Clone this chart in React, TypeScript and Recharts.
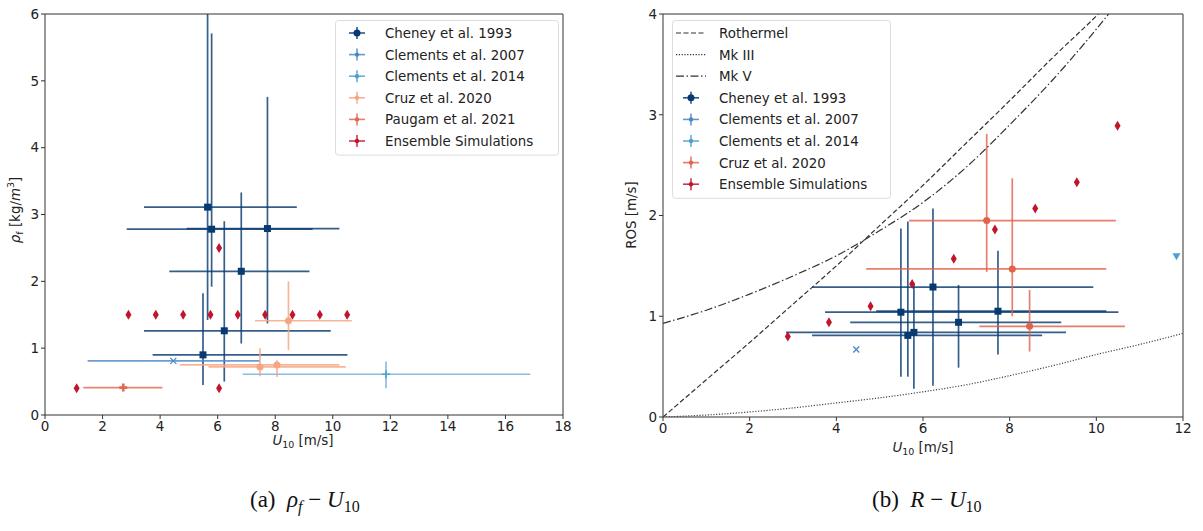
import React from 'react';
import { ScatterChart, Scatter, XAxis, YAxis, ErrorBar, ReferenceArea } from 'recharts';

// Cheney et al. 1993
const cheneyU = [5.65, 5.79, 7.73, 6.82, 6.23, 5.49];
const cheneyULow = [3.44, 2.84, 4.92, 4.32, 3.44, 3.74];
const cheneyUHigh = [8.75, 9.3, 10.23, 9.19, 9.93, 10.51];
const cheneyRho = [3.11, 2.78, 2.79, 2.15, 1.26, 0.9];
const cheneyRhoLow = [1.42, 1.92, 1.37, 1.07, 0.5, 0.45];
const cheneyRhoHigh = [6.0, 5.71, 4.76, 3.33, 2.9, 1.82];
const cheneyRos = [0.81, 0.84, 1.05, 0.94, 1.29, 1.04];
const cheneyRosLow = [0.4, 0.28, 0.62, 0.49, 0.31, 0.4];
const cheneyRosHigh = [1.94, 1.32, 1.65, 1.31, 2.07, 1.87];

// Clements et al. 2007 / 2014
const clem07U = [4.46];
const clem07ULow = [1.48];
const clem07UHigh = [7.47];
const clem07Rho = [0.81];
const clem07Ros = [0.67];
const clem14U = [11.85];
const clem14ULow = [6.87];
const clem14UHigh = [16.86];
const clem14Rho = [0.61];
const clem14RhoLow = [0.4];
const clem14RhoHigh = [0.8];
const clem14Ros = [1.59];

// Cruz et al. 2020
const cruzU = [8.46, 7.47, 8.06];
const cruzULow = [7.3, 5.68, 4.69];
const cruzUHigh = [10.66, 10.45, 10.23];
const cruzRho = [1.41, 0.72, 0.75];
const cruzRhoLow = [0.97, 0.58, 0.57];
const cruzRhoHigh = [2.0, 1.0, 0.82];
const cruzRos = [0.9, 1.95, 1.47];
const cruzRosLow = [0.65, 1.44, 1.0];
const cruzRosHigh = [1.26, 2.81, 2.37];

// Paugam et al. 2021
const paugamU = [2.72];
const paugamULow = [1.33];
const paugamUHigh = [4.08];
const paugamRho = [0.41];
const paugamRhoLow = [0.36];
const paugamRhoHigh = [0.45];

// Ensemble simulations
const ensRhoU = [1.1, 2.9, 3.85, 4.8, 5.75, 6.05, 6.05, 6.7, 7.65, 8.6, 9.55, 10.5];
const ensRho = [0.4, 1.5, 1.5, 1.5, 1.5, 2.5, 0.4, 1.5, 1.5, 1.5, 1.5, 1.5];
const ensRosU = [2.88, 3.83, 4.79, 5.75, 6.71, 7.66, 8.59, 9.55, 10.49];
const ensRos = [0.8, 0.94, 1.1, 1.32, 1.57, 1.86, 2.07, 2.33, 2.89];

// model curves
const modelU = [0, 1, 2, 3, 4, 5, 6, 7, 8, 9, 10, 11, 12];
const rothermel = [0, 0.37, 0.74, 1.12, 1.5, 1.9, 2.3, 2.72, 3.14, 3.57, 3.98, 4.42, 4.88];
const mk3 = [0, 0.02, 0.05, 0.09, 0.14, 0.19, 0.25, 0.32, 0.41, 0.51, 0.62, 0.72, 0.83];
const mk5 = [0.93, 1.06, 1.22, 1.4, 1.6, 1.85, 2.13, 2.48, 2.9, 3.35, 3.85, 4.4, 5.0];

const xTicksA = [0, 2, 4, 6, 8, 10, 12, 14, 16, 18];
const yTicksA = [0, 1, 2, 3, 4, 5, 6];
const xTicksB = [0, 2, 4, 6, 8, 10, 12];
const yTicksB = [0, 1, 2, 3, 4];

const C_CHENEY = '#083a72';
const C_CLEM07 = '#4a87c8';
const C_CLEM14 = '#6fb0db';
const C_CRUZ_A = '#f4a582';
const C_PAUGAM = '#e06a52';
const C_CRUZ_B = '#e0634a';
const C_ENS = '#c0152b';
const FONT = 'DejaVu Sans, sans-serif';

function build(u: number[], v: number[], uLo?: number[], uHi?: number[], vLo?: number[], vHi?: number[]) {
  return u.map((x, i) => ({
    x,
    y: v[i],
    ex: uLo && uHi ? [x - uLo[i], uHi[i] - x] : undefined,
    ey: vLo && vHi ? [v[i] - vLo[i], vHi[i] - v[i]] : undefined,
  }));
}
const line = (u: number[], v: number[]) => u.map((x, i) => ({ x, y: v[i] }));

const square = (color: string) => (p: any) => <rect x={p.cx - 3.5} y={p.cy - 3.5} width={7} height={7} fill={color} />;
const circle = (color: string) => (p: any) => <circle cx={p.cx} cy={p.cy} r={3.5} fill={color} />;
const diamond = (color: string) => (p: any) => (
  <polygon points={`${p.cx},${p.cy - 5} ${p.cx + 3},${p.cy} ${p.cx},${p.cy + 5} ${p.cx - 3},${p.cy}`} fill={color} />
);
const xMark = (color: string) => (p: any) => (
  <path d={`M${p.cx - 3},${p.cy - 3}L${p.cx + 3},${p.cy + 3}M${p.cx - 3},${p.cy + 3}L${p.cx + 3},${p.cy - 3}`} stroke={color} strokeWidth={1.3} />
);
const plus = (color: string, w: number) => (p: any) => (
  <path d={`M${p.cx - 4},${p.cy}L${p.cx + 4},${p.cy}M${p.cx},${p.cy - 4}L${p.cx},${p.cy + 4}`} stroke={color} strokeWidth={w} />
);
const triDown = (color: string) => (p: any) => (
  <polygon points={`${p.cx - 4},${p.cy - 3.5} ${p.cx + 4},${p.cy - 3.5} ${p.cx},${p.cy + 3.5}`} fill={color} />
);
const noDot = () => <g />;

type Entry = { label: string; color: string; kind: 'cross' | 'dash' | 'dot' | 'dashdot'; dot?: boolean };

function LegendBox({ entries, left, top, width, iconX, textX }: { entries: Entry[]; left: number; top: number; width: number; iconX: number; textX: number }) {
  const rowH = 21.6;
  const h = entries.length * rowH + 6;
  return (
    <svg width={width} height={h} style={{ position: 'absolute', left, top, display: 'block' }}>
      <rect x={0.5} y={0.5} width={width - 1} height={h - 1} rx={3} fill="#fff" fillOpacity={0.8} stroke="#dcdcdc" />
      {entries.map((e, i) => {
        const cy = 13 + i * rowH;
        let icon;
        if (e.kind === 'cross') {
          icon = (
            <g stroke={e.color} strokeWidth={1.6} strokeOpacity={0.85}>
              <line x1={iconX - 8} x2={iconX + 8} y1={cy} y2={cy} />
              <line x1={iconX} x2={iconX} y1={cy - 6} y2={cy + 6} />
              <circle cx={iconX} cy={cy} r={e.dot ? 3.5 : 2.2} fill={e.color} stroke="none" />
            </g>
          );
        } else {
          const dash = e.kind === 'dash' ? '5 2.5' : e.kind === 'dot' ? '1.2 1.6' : '8 2.5 1.5 2.5';
          icon = <line x1={iconX - 15} x2={iconX + 15} y1={cy} y2={cy} stroke="#333" strokeWidth={1.2} strokeDasharray={dash} />;
        }
        return (
          <g key={e.label}>
            {icon}
            <text x={textX} y={cy + 5} fontFamily={FONT} fontSize={13.4} fill="#222">{e.label}</text>
          </g>
        );
      })}
    </svg>
  );
}

const legendA: Entry[] = [
  { label: 'Cheney et al. 1993', color: C_CHENEY, kind: 'cross', dot: true },
  { label: 'Clements et al. 2007', color: C_CLEM07, kind: 'cross' },
  { label: 'Clements et al. 2014', color: '#4d9fd4', kind: 'cross' },
  { label: 'Cruz et al. 2020', color: C_CRUZ_A, kind: 'cross' },
  { label: 'Paugam et al. 2021', color: C_PAUGAM, kind: 'cross' },
  { label: 'Ensemble Simulations', color: C_ENS, kind: 'cross' },
];
const legendB: Entry[] = [
  { label: 'Rothermel', color: '#333', kind: 'dash' },
  { label: 'Mk III', color: '#333', kind: 'dot' },
  { label: 'Mk V', color: '#333', kind: 'dashdot' },
  { label: 'Cheney et al. 1993', color: C_CHENEY, kind: 'cross', dot: true },
  { label: 'Clements et al. 2007', color: C_CLEM07, kind: 'cross' },
  { label: 'Clements et al. 2014', color: '#4d9fd4', kind: 'cross' },
  { label: 'Cruz et al. 2020', color: C_CRUZ_B, kind: 'cross' },
  { label: 'Ensemble Simulations', color: C_ENS, kind: 'cross' },
];

const tickStyle = { fontFamily: FONT, fontSize: 13.5, fill: '#222' };
const eb = (key: string, dir: 'x' | 'y', color: string) => (
  <ErrorBar dataKey={key} direction={dir} width={0} stroke={color} strokeWidth={1.7} strokeOpacity={0.82} />
);

function PanelA() {
  return (
    <ScatterChart width={600} height={460} margin={{ top: 14, right: 37, left: 5, bottom: 15 }}>
      <XAxis type="number" dataKey="x" domain={[0, 18]} ticks={xTicksA} allowDataOverflow tick={tickStyle}
        axisLine={false} tickSize={4} tickLine={{ stroke: '#333' }} interval={0} />
      <YAxis type="number" dataKey="y" domain={[0, 6]} ticks={yTicksA} allowDataOverflow tick={tickStyle}
        axisLine={false} tickSize={4} tickLine={{ stroke: '#333' }} width={40} interval={0} />
      <ReferenceArea x1={0} x2={18} y1={0} y2={6} fill="none" stroke="#333" strokeWidth={1} ifOverflow="visible" />
      <Scatter data={build(cheneyU, cheneyRho, cheneyULow, cheneyUHigh, cheneyRhoLow, cheneyRhoHigh)} shape={square(C_CHENEY)} isAnimationActive={false}>
        {eb('ex', 'x', C_CHENEY)}
        {eb('ey', 'y', C_CHENEY)}
      </Scatter>
      <Scatter data={build(clem07U, clem07Rho, clem07ULow, clem07UHigh)} shape={xMark(C_CLEM07)} isAnimationActive={false}>
        {eb('ex', 'x', C_CLEM07)}
      </Scatter>
      <Scatter data={build(clem14U, clem14Rho, clem14ULow, clem14UHigh, clem14RhoLow, clem14RhoHigh)} shape={plus('#4d9fd4', 1.6)} isAnimationActive={false}>
        {eb('ex', 'x', C_CLEM14)}
        {eb('ey', 'y', C_CLEM14)}
      </Scatter>
      <Scatter data={build(cruzU, cruzRho, cruzULow, cruzUHigh, cruzRhoLow, cruzRhoHigh)} shape={circle(C_CRUZ_A)} isAnimationActive={false}>
        {eb('ex', 'x', C_CRUZ_A)}
        {eb('ey', 'y', C_CRUZ_A)}
      </Scatter>
      <Scatter data={build(paugamU, paugamRho, paugamULow, paugamUHigh, paugamRhoLow, paugamRhoHigh)} shape={plus(C_PAUGAM, 2.6)} isAnimationActive={false}>
        {eb('ex', 'x', C_PAUGAM)}
        {eb('ey', 'y', C_PAUGAM)}
      </Scatter>
      <Scatter data={build(ensRhoU, ensRho)} shape={diamond(C_ENS)} isAnimationActive={false} />
    </ScatterChart>
  );
}

function PanelB() {
  return (
    <ScatterChart width={593} height={460} margin={{ top: 14, right: 20, left: 13, bottom: 13 }}>
      <XAxis type="number" dataKey="x" domain={[0, 12]} ticks={xTicksB} allowDataOverflow tick={tickStyle}
        axisLine={false} tickSize={4} tickLine={{ stroke: '#333' }} interval={0} />
      <YAxis type="number" dataKey="y" domain={[0, 4]} ticks={yTicksB} allowDataOverflow tick={tickStyle}
        axisLine={false} tickSize={4} tickLine={{ stroke: '#333' }} width={40} interval={0} />
      <ReferenceArea x1={0} x2={12} y1={0} y2={4} fill="none" stroke="#333" strokeWidth={1} ifOverflow="visible" />
      <Scatter data={line(modelU, rothermel)} shape={noDot} line={{ stroke: '#333', strokeWidth: 1.2, strokeDasharray: '5 2.5' }}
        lineType="joint" lineJointType="monotoneX" isAnimationActive={false} />
      <Scatter data={line(modelU, mk3)} shape={noDot} line={{ stroke: '#444', strokeWidth: 1.2, strokeDasharray: '1.2 1.6' }}
        lineType="joint" lineJointType="monotoneX" isAnimationActive={false} />
      <Scatter data={line(modelU, mk5)} shape={noDot} line={{ stroke: '#333', strokeWidth: 1.2, strokeDasharray: '8 2.5 1.5 2.5' }}
        lineType="joint" lineJointType="monotoneX" isAnimationActive={false} />
      <Scatter data={build(cheneyU, cheneyRos, cheneyULow, cheneyUHigh, cheneyRosLow, cheneyRosHigh)} shape={square(C_CHENEY)} isAnimationActive={false}>
        {eb('ex', 'x', C_CHENEY)}
        {eb('ey', 'y', C_CHENEY)}
      </Scatter>
      <Scatter data={build(clem07U, clem07Ros)} shape={xMark(C_CLEM07)} isAnimationActive={false} />
      <Scatter data={build(clem14U, clem14Ros)} shape={triDown('#4d9fd4')} isAnimationActive={false} />
      <Scatter data={build(cruzU, cruzRos, cruzULow, cruzUHigh, cruzRosLow, cruzRosHigh)} shape={circle(C_CRUZ_B)} isAnimationActive={false}>
        {eb('ex', 'x', C_CRUZ_B)}
        {eb('ey', 'y', C_CRUZ_B)}
      </Scatter>
      <Scatter data={build(ensRosU, ensRos)} shape={diamond(C_ENS)} isAnimationActive={false} />
    </ScatterChart>
  );
}

function Titles() {
  const t = { fontFamily: FONT, fontSize: 13.4, fill: '#222' };
  const cap = { fontFamily: 'Liberation Serif, serif', fontSize: 23, fill: '#111', style: { whiteSpace: 'pre' as const } };
  return (
    <svg width={1203} height={531} style={{ position: 'absolute', left: 0, top: 0, pointerEvents: 'none' }}>
      <text x={20} y={210} transform="rotate(-90 20 210)" textAnchor="middle" {...t}>
        <tspan fontStyle="italic">ρ</tspan>
        <tspan fontSize={9.5} dy={3}>f</tspan>
        <tspan dy={-3}> [kg/</tspan>
        <tspan fontStyle="italic">m</tspan>
        <tspan fontSize={9.5} dy={-6}>3</tspan>
        <tspan dy={6}>]</tspan>
      </text>
      <text x={303} y={445} textAnchor="middle" {...t}>
        <tspan fontStyle="italic">U</tspan>
        <tspan fontSize={9.5} dy={3}>10</tspan>
        <tspan dy={-3}> [m/s]</tspan>
      </text>
      <text x={636} y={215} transform="rotate(-90 636 215)" textAnchor="middle" {...t}>ROS [m/s]</text>
      <text x={923} y={452} textAnchor="middle" {...t}>
        <tspan fontStyle="italic">U</tspan>
        <tspan fontSize={9.5} dy={3}>10</tspan>
        <tspan dy={-3}> [m/s]</tspan>
      </text>
      <text x={250} y={507} {...cap}>
        <tspan>(a)  </tspan>
        <tspan fontStyle="italic">ρ</tspan>
        <tspan fontStyle="italic" fontSize={16} dy={5}>f</tspan>
        <tspan dy={-5}> − </tspan>
        <tspan fontStyle="italic">U</tspan>
        <tspan fontSize={16} dy={5}>10</tspan>
      </text>
      <text x={872} y={507} {...cap}>
        <tspan>(b)  </tspan>
        <tspan fontStyle="italic">R</tspan>
        <tspan> − </tspan>
        <tspan fontStyle="italic">U</tspan>
        <tspan fontSize={16} dy={5}>10</tspan>
      </text>
    </svg>
  );
}

export default function App() {
  return (
    <div style={{ position: 'absolute', left: 0, top: 0, width: 1203, height: 531, background: '#fff' }}>
      <div style={{ position: 'absolute', left: 0, top: 0 }}>
        <PanelA />
      </div>
      <div style={{ position: 'absolute', left: 610, top: 0 }}>
        <PanelB />
      </div>
      <LegendBox entries={legendA} left={335} top={20} width={224} iconX={22} textX={50} />
      <LegendBox entries={legendB} left={672} top={20} width={219} iconX={19} textX={47} />
      <Titles />
    </div>
  );
}
